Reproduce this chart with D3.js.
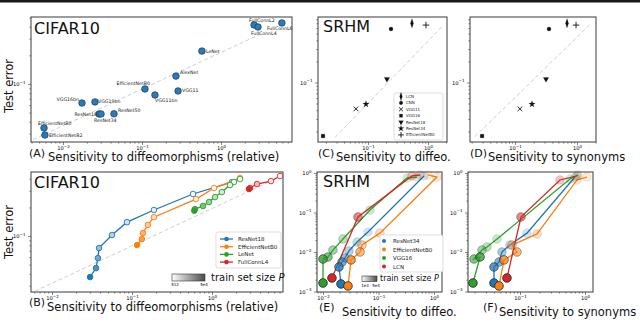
<!DOCTYPE html>
<html><head><meta charset="utf-8">
<script src="https://cdn.jsdelivr.net/npm/d3@7"></script>
<style>
body{margin:0;background:#fff;}
svg{display:block;font-family:"DejaVu Sans",sans-serif;}
</style></head><body>
<svg id="fig" width="640" height="320"></svg>
<script>
// ---------- data ----------
// (A) CIFAR10: sensitivity to diffeos vs test error, one point per net
const cifarNets = ["FullConnL2","FullConnL4","FullConnL6","LeNet","AlexNet","VGG11","EfficientNetB0","VGG11bn",
  "VGG16bn","VGG19bn","ResNet18","ResNet34","ResNet50","EfficientNetB0","EfficientNetB2"];
const cifarSens = [2.62, 2.94, 5.9, 0.574, 0.269, 0.286, 0.109, 0.146, 0.0174, 0.0254, 0.0286, 0.0303, 0.0442, 0.00575, 0.0059];
const cifarErr  = [0.418, 0.398, 0.439, 0.222, 0.121, 0.0844, 0.0886, 0.0766, 0.063, 0.0647, 0.0483, 0.0483, 0.0485, 0.0344, 0.029];
const guideA = [[0.0042, 0.026], [3.4, 0.344]];

// (B) CIFAR10 curves over train set size (small P -> large P)
const curveNamesB = ["ResNet18", "EfficientNetB0", "LeNet", "FullConnL4"];
const sensB = [
  [1.78, 0.579, 0.188, 0.0866, 0.0562, 0.0387, 0.0375, 0.0355, 0.0299],
  [2.24, 1.06, 0.631, 0.188, 0.158, 0.137, 0.133, 0.1155],
  [2.24, 1.88, 1.68, 1.33, 1.09, 0.917, 0.772, 0.613, 0.60],
  [7.08, 5.46, 3.65, 2.99, 2.9]
];
const errB = [
  [0.370, 0.277, 0.188, 0.140, 0.1025, 0.0748, 0.0586, 0.046, 0.037],
  [0.408, 0.32, 0.245, 0.158, 0.131, 0.1075, 0.093, 0.0804],
  [0.398, 0.37, 0.344, 0.29, 0.257, 0.228, 0.207, 0.192, 0.185],
  [0.428, 0.379, 0.353, 0.32, 0.313]
];
const guideB = [[0.00613, 0.0263], [5.79, 0.388]];

// (C),(D) SRHM: one point per net
const srhmNets = ["LCN", "CNN", "VGG11", "VGG16", "ResNet18", "ResNet34", "EfficientNetB0"];
const srhmErr   = [0.70, 0.58, 0.042, 0.0172, 0.112, 0.049, 0.66];
const srhmDiffeo = [0.541, 0.242, 0.063, 0.0178, 0.207, 0.0926, 0.926];
const srhmSyn    = [0.69, 0.353, 0.12, 0.0294, 0.316, 0.188, 0.964];
const guideC = [[0.0282, 0.0164], [1.78, 0.652]];
const guideD = [[0.0226, 0.0169], [1.68, 0.697]];

// (E),(F) SRHM curves over train set size (small P -> large P)
const curveNamesE = ["ResNet34", "EfficientNetB0", "VGG16", "LCN"];
const sensE = [
  [0.66, 0.0646, 0.041, 0.0294, 0.0249, 0.022, 0.0194, 0.0211],
  [0.78, 1.13, 0.106, 0.0505, 0.0465, 0.032, 0.0282],
  [0.494, 0.327, 0.0703, 0.0229, 0.0151, 0.0123, 0.0100, 0.0100],
  [0.56, 0.40, 0.0427, 0.0145]
];
const errE = [
  [0.84, 0.032, 0.0179, 0.0106, 0.00705, 0.00558, 0.00417, 0.00155],
  [0.89, 0.79, 0.030, 0.015, 0.010, 0.0063, 0.00138],
  [0.79, 0.747, 0.116, 0.0214, 0.0112, 0.00746, 0.00665, 0.00164],
  [0.89, 0.84, 0.0769, 0.0022]
];
const sensF = [
  [0.70, 0.128, 0.070, 0.0528, 0.0475, 0.0398, 0.0398],
  [1.07, 0.753, 0.183, 0.0753, 0.09, 0.0568, 0.0475],
  [0.78, 0.587, 0.0443, 0.031, 0.026, 0.0196, 0.0243, 0.0189],
  [0.753, 0.412, 0.1035, 0.063]
];
const errF = [
  [0.79, 0.030, 0.015, 0.010, 0.00558, 0.00417, 0.00164],
  [0.79, 0.665, 0.0286, 0.015, 0.010, 0.0063, 0.00138],
  [0.89, 0.705, 0.0213, 0.0134, 0.0112, 0.00665, 0.00747, 0.00164],
  [0.84, 0.665, 0.0769, 0.0022]
];

const tab = ["#1f77b4", "#ff7f0e", "#2ca02c", "#d62728"];

// label nudges for panel A (dx, dy, anchor), same order as cifarNets
const nudgeA = [[-5,-3,"start"],[-7,8,"start"],[-15,7,"start"],[4,1.5,"start"],[4,-2,"start"],[4,1,"start"],
  [5,-4,"end"],[0,7,"start"],[-3,-2,"end"],[3,1,"start"],[-2,2.5,"end"],[-7,8,"start"],[4,-2,"start"],
  [-6,-3,"start"],[4,1.5,"start"]];

// ---------- helpers ----------
const svg = d3.select('#fig');
svg.append('rect').attr('width', 640).attr('height', 2.5).attr('fill', '#1a1a1a');
const defs = svg.append('defs');

const E = e => Math.pow(10, e);

function decades(dom) {
  const lo = Math.log10(dom[0]), hi = Math.log10(dom[1]);
  const majors = [], minors = [];
  for (let e = Math.floor(lo); e <= Math.ceil(hi); e++) {
    if (e >= lo - 1e-9 && e <= hi + 1e-9) majors.push(E(e));
    for (let k = 2; k < 10; k++) {
      const lm = Math.log10(k * E(e));
      if (lm >= lo && lm <= hi) minors.push(k * E(e));
    }
  }
  return {majors, minors};
}

function sciLabel(textSel) {
  textSel.each(function (d) {
    const t = d3.select(this);
    const ex = Math.round(Math.log10(d));
    t.text(null);
    t.append('tspan').text('10');
    t.append('tspan').attr('dy', -2.3).attr('font-size', 4).text(ex < 0 ? '\u2212' + (-ex) : ex);
  });
}

function logPanel(box, xDom, yDom) {
  const x = d3.scaleLog().domain(xDom).range([box.x0, box.x1]);
  const y = d3.scaleLog().domain(yDom).range([box.y1, box.y0]);
  const g = svg.append('g');
  const dx = decades(xDom), dy = decades(yDom);

  const style = a => {
    a.select('.domain').remove();
    a.selectAll('line').attr('stroke', '#333').attr('stroke-width', 0.6);
    a.attr('font-family', null).attr('font-size', 5.2).attr('fill', '#222');
  };
  g.append('g').attr('transform', `translate(0,${box.y1})`)
    .call(d3.axisBottom(x).tickValues(dx.minors).tickSize(1.6).tickFormat('')).call(style);
  const xa = g.append('g').attr('transform', `translate(0,${box.y1})`)
    .call(d3.axisBottom(x).tickValues(dx.majors).tickSize(3).tickPadding(1.5)).call(style);
  xa.selectAll('.tick text').call(sciLabel);
  g.append('g').attr('transform', `translate(${box.x0},0)`)
    .call(d3.axisLeft(y).tickValues(dy.minors).tickSize(1.6).tickFormat('')).call(style);
  const ya = g.append('g').attr('transform', `translate(${box.x0},0)`)
    .call(d3.axisLeft(y).tickValues(dy.majors).tickSize(3).tickPadding(2.5)).call(style);
  ya.selectAll('.tick text').call(sciLabel);

  g.append('rect').attr('x', box.x0).attr('y', box.y0)
    .attr('width', box.x1 - box.x0).attr('height', box.y1 - box.y0)
    .attr('fill', 'none').attr('stroke', '#3a3a3a').attr('stroke-width', 1);
  return {g, x, y};
}

function guide(p, pts) {
  p.g.append('line')
    .attr('x1', p.x(pts[0][0])).attr('y1', p.y(pts[0][1]))
    .attr('x2', p.x(pts[1][0])).attr('y2', p.y(pts[1][1]))
    .attr('stroke', '#cfcfcf').attr('stroke-width', 1).attr('stroke-dasharray', '4,2.5');
}

function title(txt, x, y) {
  svg.append('text').attr('x', x).attr('y', y).attr('font-size', 16).attr('fill', '#111').text(txt);
}

function xlabel(tag, txt, x, y, xt, yt) {
  svg.append('text').attr('x', x).attr('y', y).attr('font-size', 11).attr('fill', '#111').text(tag);
  svg.append('text').attr('x', xt).attr('y', yt).attr('font-size', 11.5).attr('fill', '#111').text(txt);
}

function ylabel(txt, x, y) {
  svg.append('text').attr('transform', `translate(${x},${y}) rotate(-90)`)
    .attr('text-anchor', 'middle').attr('font-size', 11.5).attr('fill', '#111').text(txt);
}

function colorbar(id, x, y, w, h, lo, hi, tx, ty, fs) {
  const grad = defs.append('linearGradient').attr('id', id);
  grad.append('stop').attr('offset', '0%').attr('stop-color', '#ffffff');
  grad.append('stop').attr('offset', '100%').attr('stop-color', '#4a4a4a');
  svg.append('rect').attr('x', x).attr('y', y).attr('width', w).attr('height', h)
    .attr('fill', `url(#${id})`).attr('stroke', '#333').attr('stroke-width', 0.6);
  svg.append('text').attr('x', x + 3).attr('y', y + h + 5).attr('font-size', 4).attr('text-anchor', 'middle').text(lo);
  svg.append('text').attr('x', x + w - 1).attr('y', y + h + 5).attr('font-size', 4).attr('text-anchor', 'middle').text(hi);
  const t = svg.append('text').attr('x', tx).attr('y', ty).attr('font-size', fs).attr('fill', '#111');
  t.append('tspan').text('train set size ');
  t.append('tspan').attr('font-style', 'italic').text('P');
}

// ---------- (A) ----------
const pA = logPanel({x0: 31, x1: 292, y0: 17, y1: 142}, [E(-2.405), E(0.899)], [E(-1.611), E(-0.295)]);
guide(pA, guideA);
pA.g.selectAll('circle.pt').data(cifarNets).join('circle')
  .attr('cx', (d, i) => pA.x(cifarSens[i])).attr('cy', (d, i) => pA.y(cifarErr[i]))
  .attr('r', 3.3).attr('fill', '#2b7bba').attr('stroke', '#173a5a').attr('stroke-width', 0.7);
pA.g.selectAll('text.lbl').data(cifarNets).join('text')
  .attr('x', (d, i) => pA.x(cifarSens[i]) + nudgeA[i][0])
  .attr('y', (d, i) => pA.y(cifarErr[i]) + nudgeA[i][1])
  .attr('text-anchor', (d, i) => nudgeA[i][2])
  .attr('font-size', 4.7).attr('fill', '#222').text(d => d);
title('CIFAR10', 34, 34);
ylabel('Test error', 13, 86);
xlabel('(A)', 'Sensitivity to diffeomorphisms (relative)', 29, 157, 48, 161);

// ---------- (B) ----------
const pB = logPanel({x0: 31, x1: 283, y0: 172, y1: 292}, [E(-2.2625), E(0.8875)], [E(-1.589), E(-0.326)]);
guide(pB, guideB);
const lineB = d3.line().x(d => pB.x(d[0])).y(d => pB.y(d[1]));
curveNamesB.forEach((name, k) => {
  const pts = sensB[k].map((s, i) => [s, errB[k][i]]);
  pB.g.append('path').datum(pts).attr('d', lineB).attr('fill', 'none')
    .attr('stroke', tab[k]).attr('stroke-width', 1.3);
  pB.g.selectAll(null).data(pts).join('circle')
    .attr('cx', d => pB.x(d[0])).attr('cy', d => pB.y(d[1])).attr('r', 2.8)
    .attr('fill', (d, i) => d3.interpolateRgb('#ffffff', tab[k])(Math.pow(i / (pts.length - 1), 1.6)))
    .attr('stroke', tab[k]).attr('stroke-width', 0.9);
});
title('CIFAR10', 34, 188);
ylabel('Test error', 13, 232);
xlabel('(B)', 'Sensitivity to diffeomorphisms (relative)', 29, 306, 47, 311);
// legend B
const legB = svg.append('g');
legB.append('rect').attr('x', 216).attr('y', 232).attr('width', 65).attr('height', 36).attr('rx', 2)
  .attr('fill', '#fff').attr('stroke', '#d0d0d0').attr('stroke-width', 0.7);
curveNamesB.forEach((name, k) => {
  const yy = 239 + k * 7.7;
  legB.append('line').attr('x1', 220).attr('x2', 233).attr('y1', yy).attr('y2', yy).attr('stroke', tab[k]).attr('stroke-width', 1.3);
  legB.append('circle').attr('cx', 226.5).attr('cy', yy).attr('r', 2.3).attr('fill', tab[k]);
  legB.append('text').attr('x', 238).attr('y', yy + 2).attr('font-size', 5.5).attr('fill', '#222').text(name);
});
colorbar('cbB', 172, 274, 33, 7, '512', '5e4', 211, 281, 10);

// ---------- (C),(D) ----------
const symType = {
  LCN: d3.symbolDiamond, CNN: d3.symbolCircle, VGG11: d3.symbolTimes, VGG16: d3.symbolSquare,
  ResNet18: d3.symbolTriangle, ResNet34: d3.symbolStar, EfficientNetB0: d3.symbolPlus
};
const strokeSym = {VGG11: true, EfficientNetB0: true};
const baseTf = {ResNet18: 'rotate(180)', LCN: 'scale(0.55,1)'};
function marker(g, name, size, cx, cy) {
  g.append('path').attr('d', d3.symbol().type(symType[name]).size(size)())
    .attr('transform', `translate(${cx},${cy}) ${baseTf[name] || ''}`)
    .attr('fill', strokeSym[name] ? 'none' : '#111')
    .attr('stroke', '#111').attr('stroke-width', strokeSym[name] ? 0.9 : 0.2);
}
function srhmPanel(box, xDom, sens, g0) {
  const p = logPanel(box, xDom, [E(-1.85), E(-0.065)]);
  guide(p, g0);
  srhmNets.forEach((name, i) => {
    const sz = name === 'LCN' ? 26 : (strokeSym[name] ? 16 : 13);
    marker(p.g, name, sz, p.x(sens[i]), p.y(srhmErr[i]));
  });
  return p;
}
const pC = srhmPanel({x0: 318, x1: 447, y0: 17, y1: 142}, [E(-1.833), E(0.317)], srhmDiffeo, guideC);
title('SRHM', 323, 32);
xlabel('(C)', 'Sensitivity to diffeo.', 318, 157, 336, 161);
const legC = svg.append('g');
legC.append('rect').attr('x', 394).attr('y', 93).attr('width', 49).attr('height', 47).attr('rx', 2)
  .attr('fill', '#fff').attr('stroke', '#d0d0d0').attr('stroke-width', 0.7);
srhmNets.forEach((name, k) => {
  const yy = 96.5 + k * 6.4;
  const sz = name === 'LCN' ? 20 : (strokeSym[name] ? 12 : 10);
  marker(legC, name, sz, 401, yy);
  legC.append('text').attr('x', 406).attr('y', yy + 1.5).attr('font-size', 4).attr('fill', '#222').text(name);
});
const pD = srhmPanel({x0: 470, x1: 596, y0: 17, y1: 142}, [E(-1.726), E(0.306)], srhmSyn, guideD);
xlabel('(D)', 'Sensitivity to synonyms', 470, 157, 488, 161);

// ---------- (E),(F) ----------
function curvePanel(box, xDom, sens, err) {
  const p = logPanel(box, xDom, [E(-3.013), E(0.025)]);
  const line = d3.line().x(d => p.x(d[0])).y(d => p.y(d[1]));
  curveNamesE.forEach((name, k) => {
    const pts = sens[k].map((s, i) => [s, err[k][i]]);
    p.g.append('path').datum(pts).attr('d', line).attr('fill', 'none')
      .attr('stroke', tab[k]).attr('stroke-width', 1.3);
  });
  curveNamesE.forEach((name, k) => {
    const pts = sens[k].map((s, i) => [s, err[k][i]]);
    p.g.selectAll(null).data(pts).join('circle')
      .attr('cx', d => p.x(d[0])).attr('cy', d => p.y(d[1])).attr('r', 4.3)
      .attr('fill', tab[k])
      .attr('fill-opacity', (d, i) => 0.18 + 0.82 * Math.pow(i / (pts.length - 1), 2))
      .attr('stroke', '#222')
      .attr('stroke-opacity', (d, i) => 0.1 + 0.9 * Math.pow(i / (pts.length - 1), 2))
      .attr('stroke-width', 0.8);
  });
  return p;
}
const pE = curvePanel({x0: 317, x1: 442, y0: 172, y1: 292}, [E(-2.108), E(0.144)], sensE, errE);
title('SRHM', 323, 187);
xlabel('(E)', 'Sensitivity to diffeo.', 319, 311, 342, 316);
const legE = svg.append('g');
legE.append('rect').attr('x', 380).attr('y', 235).attr('width', 63).attr('height', 37).attr('rx', 2)
  .attr('fill', '#fff').attr('stroke', '#d0d0d0').attr('stroke-width', 0.7);
curveNamesE.forEach((name, k) => {
  const yy = 241 + k * 8.5;
  legE.append('circle').attr('cx', 384).attr('cy', yy).attr('r', 2).attr('fill', tab[k]);
  legE.append('text').attr('x', 393).attr('y', yy + 2).attr('font-size', 5.5).attr('fill', '#222').text(name);
});
colorbar('cbE', 362, 276, 15, 5.5, '1e3', '5e4', 380, 281, 8);

const pF = curvePanel({x0: 468, x1: 593, y0: 172, y1: 292}, [E(-1.8), E(0.123)], sensF, errF);
xlabel('(F)', 'Sensitivity to synonyms', 483, 311, 499, 316);
</script>
</body></html>
